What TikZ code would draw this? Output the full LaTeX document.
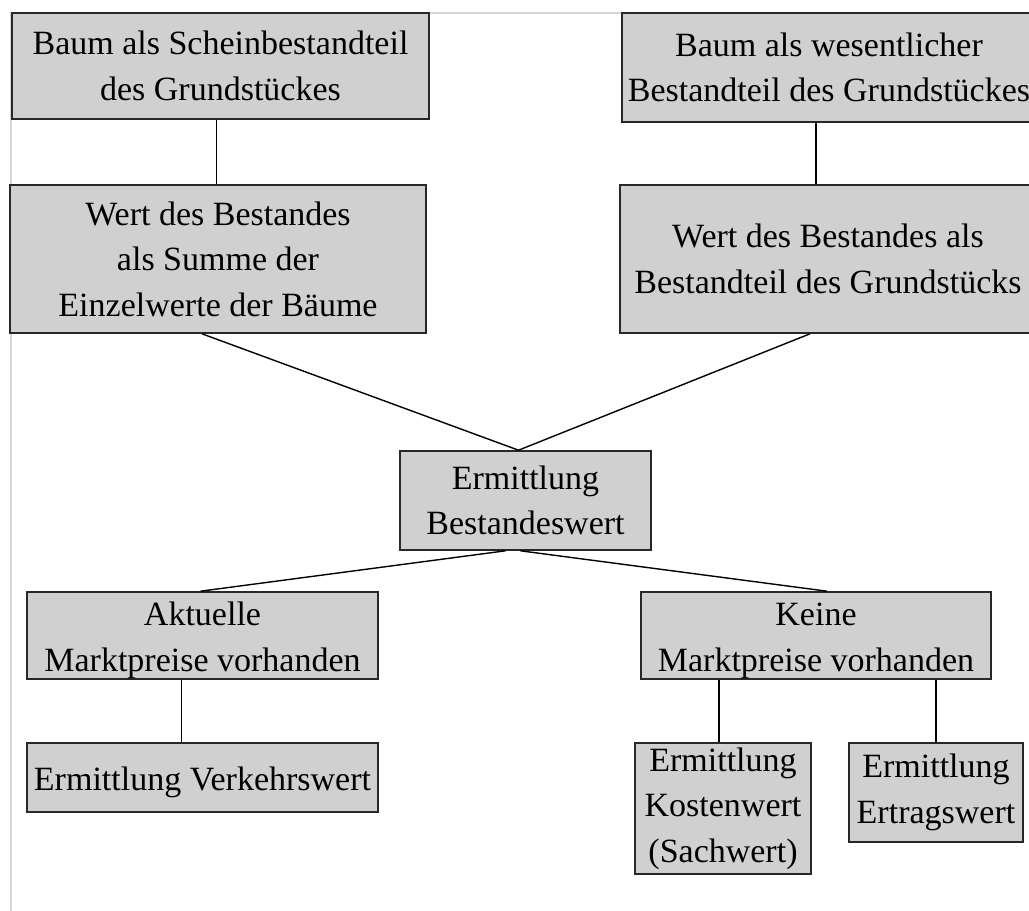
\documentclass[tikz,border=0pt]{standalone}
\usepackage{fontspec}
\setmainfont{Liberation Serif}
\definecolor{boxgray}{RGB}{208,208,208}
\definecolor{framegray}{RGB}{215,215,215}
\definecolor{edgegray}{RGB}{40,40,40}
\newcommand{\lowerstrut}{\rule{0pt}{33pt}}
\begin{document}
\begin{tikzpicture}[x=1pt,y=-1pt,
  box/.style={draw=edgegray, fill=boxgray, line width=1.6pt, align=center, inner sep=0pt,
    font=\fontsize{34}{45.5}\selectfont},
  conn/.style={draw=black, line width=1.4pt}]
\useasboundingbox (0,0) rectangle (1029,911);
\clip (0,0) rectangle (1029,911);
\draw[framegray, line width=1.5pt] (11,911) -- (11,13) -- (1029,13);

\node[box, minimum width=417pt, minimum height=106pt] (b1) at (220.5,66) {Baum als Scheinbestandteil\\des Grundstückes};
\node[box, minimum width=414pt, minimum height=109pt] (b2) at (829,67.5) {Baum als wesentlicher\\Bestandteil des Grundstückes};
\node[box, minimum width=416pt, minimum height=148pt] (lw) at (218,259) {Wert des Bestandes\\als Summe der\\Einzelwerte der Bäume};
\node[box, minimum width=416pt, minimum height=148pt] (rw) at (828,259) {Wert des Bestandes als\\Bestandteil des Grundstücks};
\node[box, minimum width=251pt, minimum height=99pt] (ce) at (525.5,500.5) {Ermittlung\\Bestandeswert};
\node[box, minimum width=351pt, minimum height=87pt] (ak) at (202.5,635.5) {\lowerstrut Aktuelle\\Marktpreise vorhanden};
\node[box, minimum width=350pt, minimum height=87pt] (ke) at (816,635.5) {\lowerstrut Keine\\Marktpreise vorhanden};
\node[box, minimum width=351pt, minimum height=69pt] (ve) at (202.5,777.5) {\lowerstrut Ermittlung Verkehrswert};
\node[box, minimum width=176pt, minimum height=131pt] (ko) at (723,808.5) {Ermittlung\\Kostenwert\\(Sachwert)};
\node[box, minimum width=174pt, minimum height=99pt] (er) at (936,792.5) {Ermittlung\\Ertragswert};

\draw[conn] ([xshift=-4pt]b1.south) -- ([xshift=-4pt]b1.south |- lw.north);
\draw[conn] ([xshift=-13pt]b2.south) -- ([xshift=-13pt]b2.south |- rw.north);
\draw[conn] ([xshift=-16pt]lw.south) -- ([xshift=-7pt]ce.north);
\draw[conn] ([xshift=-18pt]rw.south) -- ([xshift=-7pt]ce.north);
\draw[conn] ([xshift=-20pt]ce.south) -- ([xshift=-2pt]ak.north);
\draw[conn] ([xshift=-5pt]ce.south) -- ([xshift=11pt]ke.north);
\draw[conn] ([xshift=-21pt]ak.south) -- ([xshift=-21pt]ak.south |- ve.north);
\draw[conn] ([xshift=-4pt]ko.north) -- ([xshift=-4pt]ko.north |- ke.south);
\draw[conn] (er.north) -- (er.north |- ke.south);
\end{tikzpicture}
\end{document}
